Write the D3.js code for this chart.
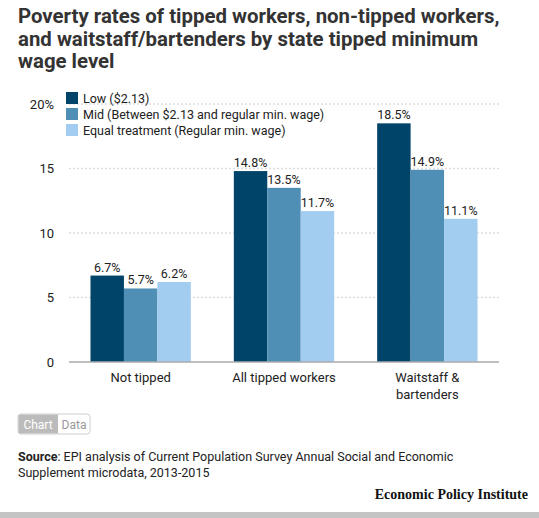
<!DOCTYPE html>
<html>
<head>
<meta charset="utf-8">
<script src="https://cdn.jsdelivr.net/npm/d3@7"></script>
<style>
  body { margin: 0; background: #fff; }
  svg { display: block; font-family: "Open Sans", Roboto, sans-serif; }
</style>
</head>
<body>
<script>
const categories = ["Not tipped", "All tipped workers", "Waitstaff & bartenders"];
const seriesNames = ["Low ($2.13)", "Mid (Between $2.13 and regular min. wage)", "Equal treatment (Regular min. wage)"];
const lowValues = [6.7, 14.8, 18.5];
const midValues = [5.7, 13.5, 14.9];
const equalValues = [6.2, 11.7, 11.1];
const yTicks = [0, 5, 10, 15, 20];
const colors = ["#00446a", "#4f8fb5", "#a2cdf0"];

const width = 539, height = 518;

const svg = d3.select("body")
    .append("svg")
    .attr("width", width)
    .attr("height", height);

// title
const titleLines = ["Poverty rates of tipped workers, non-tipped workers,",
    "and waitstaff/bartenders by state tipped minimum",
    "wage level"];
svg.append("text")
    .attr("x", 18)
    .attr("y", 23)
    .attr("fill", "#333")
    .style("font-family", "Roboto, sans-serif")
    .style("font-weight", "bold")
    .style("font-size", "20.4px")
    .selectAll("tspan")
    .data(titleLines)
    .enter().append("tspan")
    .attr("x", 18)
    .attr("dy", (d, i) => i === 0 ? 0 : 22.5)
    .text(d => d);

const x0 = d3.scaleBand()
    .domain(categories)
    .range([69, 499])
    .paddingInner(0.3)
    .paddingOuter(0.15);

const x1 = d3.scaleBand()
    .domain(seriesNames)
    .range([0, x0.bandwidth()]);

const y = d3.scaleLinear()
    .domain([0, 20])
    .range([362, 104]);

// grid
svg.append("g")
    .selectAll("line")
    .data(yTicks.filter(d => d > 0))
    .enter().append("line")
    .attr("x1", 69)
    .attr("x2", 499)
    .attr("y1", d => y(d))
    .attr("y2", d => y(d))
    .attr("stroke", "#ddd")
    .attr("stroke-width", 1.5)
    .attr("stroke-dasharray", "2,2");

// y axis labels
const yAxis = d3.axisLeft(y)
    .tickValues(yTicks)
    .tickSize(0)
    .tickPadding(0)
    .tickFormat(d => d === 20 ? "20%" : d);
svg.append("g")
    .attr("transform", "translate(54,0)")
    .call(yAxis)
    .call(g => g.select(".domain").remove())
    .selectAll("text")
    .attr("fill", "#222")
    .style("font-family", "Roboto, sans-serif")
    .style("font-size", "13px");

const rows = categories.map((c, i) => ({
    cat: c,
    vals: [lowValues[i], midValues[i], equalValues[i]]
}));

const groups = svg.append("g")
    .selectAll("g")
    .data(rows)
    .enter().append("g")
    .attr("transform", d => "translate(" + x0(d.cat) + ",0)");

groups.selectAll("rect")
    .data(d => d.vals.map((v, j) => ({ name: seriesNames[j], v: v, j: j })))
    .enter().append("rect")
    .attr("x", d => x1(d.name))
    .attr("width", x1.bandwidth())
    .attr("y", d => y(d.v))
    .attr("height", d => y(0) - y(d.v))
    .attr("fill", d => colors[d.j]);

groups.selectAll("text")
    .data(d => d.vals.map((v, j) => ({ name: seriesNames[j], v: v })))
    .enter().append("text")
    .attr("x", d => x1(d.name) + x1.bandwidth() / 2)
    .attr("y", d => y(d.v) - 4)
    .attr("text-anchor", "middle")
    .attr("fill", "#222")
    .style("font-family", "Roboto, sans-serif")
    .style("font-size", "12.5px")
    .text(d => d.v.toFixed(1) + "%");

// baseline
svg.append("line")
    .attr("x1", 69)
    .attr("x2", 499)
    .attr("y1", y(0))
    .attr("y2", y(0))
    .attr("stroke", "#aaa")
    .attr("stroke-width", 1.5);

// x labels
const xLabelLines = {
    "Not tipped": ["Not tipped"],
    "All tipped workers": ["All tipped workers"],
    "Waitstaff & bartenders": ["Waitstaff &", "bartenders"]
};
svg.append("g")
    .selectAll("text")
    .data(categories)
    .enter().append("text")
    .attr("text-anchor", "middle")
    .attr("fill", "#222")
    .style("font-family", "Roboto, sans-serif")
    .style("font-size", "13px")
    .each(function (c) {
        d3.select(this).selectAll("tspan")
            .data(xLabelLines[c])
            .enter().append("tspan")
            .attr("x", x0(c) + x0.bandwidth() / 2)
            .attr("y", (d, i) => 382 + i * 17)
            .text(d => d);
    });

// legend
const legend = svg.append("g")
    .selectAll("g")
    .data(seriesNames)
    .enter().append("g")
    .attr("transform", (d, i) => "translate(66," + (92 + i * 16) + ")");
legend.append("rect")
    .attr("width", 12)
    .attr("height", 12)
    .attr("fill", (d, i) => colors[i]);
legend.append("text")
    .attr("x", 17)
    .attr("y", 10.5)
    .attr("fill", "#222")
    .style("font-family", "Roboto, sans-serif")
    .style("font-size", "12.5px")
    .text(d => d);

// chart / data toggle
const toggle = svg.append("g").attr("transform", "translate(18,414)");
toggle.append("rect")
    .attr("width", 72).attr("height", 20).attr("rx", 3)
    .attr("fill", "#fff").attr("stroke", "#ccc");
toggle.append("path")
    .attr("d", "M3,0.5 H40 V19.5 H3 Q0.5,19.5 0.5,17 V3 Q0.5,0.5 3,0.5 Z")
    .attr("fill", "#bbb");
toggle.append("text")
    .attr("x", 20).attr("y", 14.5).attr("text-anchor", "middle")
    .attr("fill", "#fff")
    .style("font-family", "Roboto, sans-serif").style("font-size", "12px")
    .text("Chart");
toggle.append("text")
    .attr("x", 56).attr("y", 14.5).attr("text-anchor", "middle")
    .attr("fill", "#999")
    .style("font-family", "Roboto, sans-serif").style("font-size", "12px")
    .text("Data");

// source
const src = svg.append("text")
    .attr("x", 18)
    .attr("y", 461)
    .attr("fill", "#222")
    .style("font-family", "Roboto, sans-serif")
    .style("font-size", "12.5px");
src.append("tspan").style("font-weight", "bold").text("Source");
src.append("tspan").text(": EPI analysis of Current Population Survey Annual Social and Economic");
svg.append("text")
    .attr("x", 18)
    .attr("y", 477)
    .attr("fill", "#222")
    .style("font-family", "Roboto, sans-serif")
    .style("font-size", "12.5px")
    .text("Supplement microdata, 2013-2015");

svg.append("text")
    .attr("x", 528)
    .attr("y", 499)
    .attr("text-anchor", "end")
    .attr("fill", "#111")
    .style("font-family", "'Liberation Serif', serif")
    .style("font-weight", "bold")
    .style("font-size", "14px")
    .text("Economic Policy Institute");

svg.append("rect")
    .attr("x", 0).attr("y", 512)
    .attr("width", width).attr("height", 6)
    .attr("fill", "#c4c4c4");
</script>
</body>
</html>
